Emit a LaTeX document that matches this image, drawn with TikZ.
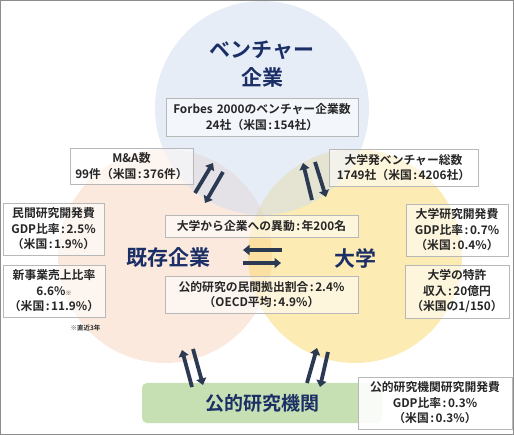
\documentclass[tikz,border=0pt]{standalone}
\usepackage{fontspec}
\setmainfont{Noto Sans CJK JP}[BoldFont={Noto Sans CJK JP Bold}]
\usetikzlibrary{arrows.meta}
\definecolor{navy}{HTML}{1B2F66}
\definecolor{arrowc}{HTML}{2B3A52}
\definecolor{txt}{HTML}{262626}
\definecolor{cblue}{HTML}{CFDDF1}
\definecolor{corange}{HTML}{F9D5BE}
\definecolor{cyellow}{HTML}{FBD966}
\definecolor{cgreen}{HTML}{C6E0B4}
\newcommand{\cln}{\hspace{1.5pt}:\hspace{1.5pt}}
\tikzset{
  infobox/.style={draw=black!28, line width=0.8pt, fill=white, fill opacity=0.55, text opacity=1,
    text=txt, align=center, inner sep=0pt, font=\bfseries\fontsize{11.8}{15.5}\selectfont},
  bw/.style={minimum width=#1, text width=#1},
  bigtitle/.style={text=navy, align=center, font=\bfseries\fontsize{21}{28}\selectfont},
  flowarrow/.style={draw=arrowc, line width=3.8pt, -{Triangle[width=10pt,length=6.5pt]}},
}
\begin{document}
\begin{tikzpicture}[x=1pt,y=-1pt]
\useasboundingbox (0,0) rectangle (514,435);
\fill[white] (0,0) rectangle (514,435);
% circles
\fill[corange, fill opacity=0.5] (165,256) circle (107);
\fill[cyellow, fill opacity=0.5] (355,256) circle (107);
\fill[cblue, fill opacity=0.5] (262,108) circle (107);
% frame
\draw[black!45, line width=1pt] (0.5,0.5) rectangle (513.5,434.5);
% big titles
\node[bigtitle] (venture) at (262,64) {ベンチャー\\企業};
\node[bigtitle] (kizon) at (168,258) {既存企業};
\node[bigtitle] (daigaku) at (355,258) {大学};
% info boxes
\node[infobox, bw=192, minimum height=38] (forbes) at (262,117) {Forbes 2000のベンチャー企業数\\24社（米国\cln 154社）};
\node[infobox, bw=123, minimum height=36] (ma) at (131.5,166) {M\&A数\\99件（米国\cln 376件）};
\node[infobox, bw=149, minimum height=37] (univv) at (403.5,167.5) {大学発ベンチャー総数\\1749社（米国\cln 4206社）};
\node[infobox, bw=101, minimum height=52] (minkan) at (53.5,229) {民間研究開発費\\GDP比率\cln 2.5\%\\（米国\cln 1.9\%）};
\node[infobox, bw=102, minimum height=52] (shinji) at (54,291) {新事業売上比率\\6.6\%{\fontsize{6}{6}\selectfont ※}\\（米国\cln 11.9\%）};
\node[text=txt, font=\bfseries\fontsize{6.5}{7}\selectfont, anchor=east] (note) at (104,328) {※直近3年};
\node[infobox, bw=102, minimum height=52] (univrd) at (457,230) {大学研究開発費\\GDP比率\cln 0.7\%\\（米国\cln 0.4\%）};
\node[infobox, bw=104, minimum height=53] (patent) at (457,291.5) {大学の特許\\収入\cln 20億円\\（米国の1/150）};
\node[infobox, bw=193, minimum height=22] (idou) at (261.5,226) {大学から企業への異動\cln 年200名};
\node[infobox, bw=193, minimum height=37] (ratio) at (261.5,294.5) {公的研究の民間拠出割合\cln 2.4\%\\（OECD平均\cln 4.9\%）};
% public research institutes
\node[fill=cgreen, rounded corners=5pt, minimum width=240, minimum height=40, inner sep=0pt,
  text=navy, font=\bfseries\fontsize{19}{24}\selectfont] (koteki) at (262,403) {公的研究機関};
\node[infobox, fill opacity=0.9, bw=154, minimum height=52] (pubrd) at (435,403) {公的研究機関研究開発費\\GDP比率\cln 0.3\%\\（米国\cln 0.3\%）};
% arrow end points
\coordinate (a1t) at (195,193); \coordinate (a1h) at (213,163);
\coordinate (a2t) at (223,172); \coordinate (a2h) at (205,203);
\coordinate (b1t) at (312,200); \coordinate (b1h) at (303,163);
\coordinate (b2t) at (315,162); \coordinate (b2h) at (326,197);
\coordinate (c1t) at (282,250); \coordinate (c1h) at (243,250);
\coordinate (c2t) at (243,263); \coordinate (c2h) at (281,263);
\coordinate (d1t) at (192,387); \coordinate (d1h) at (182,350);
\coordinate (d2t) at (193,349); \coordinate (d2h) at (203,385);
\coordinate (e1t) at (307,383); \coordinate (e1h) at (317,348);
\coordinate (e2t) at (328,352); \coordinate (e2h) at (320,387);
\draw[flowarrow] (a1t) -- (a1h);
\draw[flowarrow] (a2t) -- (a2h);
\draw[flowarrow] (b1t) -- (b1h);
\draw[flowarrow] (b2t) -- (b2h);
\draw[flowarrow] (c1t) -- (c1h);
\draw[flowarrow] (c2t) -- (c2h);
\draw[flowarrow] (d1t) -- (d1h);
\draw[flowarrow] (d2t) -- (d2h);
\draw[flowarrow] (e1t) -- (e1h);
\draw[flowarrow] (e2t) -- (e2h);
\end{tikzpicture}
\end{document}
